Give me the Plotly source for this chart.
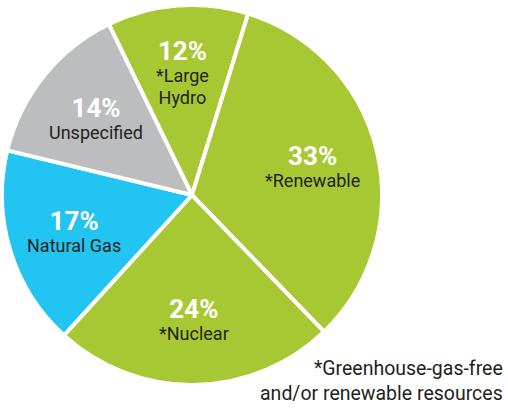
import math
import plotly.graph_objects as go

labels = ["*Large Hydro", "*Renewable", "*Nuclear", "Natural Gas", "Unspecified"]
label_lines = ["*Large<br>Hydro", "*Renewable", "*Nuclear", "Natural Gas", "Unspecified"]
values = [12, 33, 24, 17, 14]
colors = ["#a8c833", "#a8c833", "#a8c833", "#22c4f1", "#bcbdbf"]
footnote = "*Greenhouse-gas-free<br>and/or renewable resources"

# layout / style parameters
W, H = 508, 408
DOM_X = [0.0039, 0.752]
DOM_Y = [0.056, 0.988]
ROTATION = -26
LABEL_R = 0.65  # label distance from centre, as a fraction of the radius

fig = go.Figure(go.Pie(
    labels=labels,
    values=values,
    textinfo="none",
    sort=False,
    direction="clockwise",
    rotation=ROTATION,
    marker=dict(colors=colors, line=dict(color="#ffffff", width=4)),
    domain=dict(x=DOM_X, y=DOM_Y),
    showlegend=False,
    hoverinfo="skip",
))

# slice labels placed along each slice's mid-angle (derived from the values)
cx = W * (DOM_X[0] + DOM_X[1]) / 2
cy = H * (1 - (DOM_Y[0] + DOM_Y[1]) / 2)
R = min(W * (DOM_X[1] - DOM_X[0]), H * (DOM_Y[1] - DOM_Y[0])) / 2
total = sum(values)
cum = 0
for v, l in zip(values, label_lines):
    mid = math.radians(ROTATION + 360 * (cum + v / 2) / total)
    cum += v
    px = cx + LABEL_R * R * math.sin(mid)
    py = cy - LABEL_R * R * math.cos(mid)
    pct = round(100 * v / total)
    fig.add_annotation(
        text=(f"<span style='font-size:26px;color:#ffffff'><b>{pct}%</b></span><br>"
              f"<span style='font-size:18px;color:#231f20'>{l}</span>"),
        x=px / W, y=1 - py / H, xref="paper", yref="paper",
        xanchor="center", yanchor="middle", align="center", showarrow=False,
        font=dict(family="Roboto, sans-serif", size=17, color="#231f20"),
    )

fig.add_annotation(
    text=footnote, x=0.995, y=0.003, xref="paper", yref="paper",
    xanchor="right", yanchor="bottom", align="right", showarrow=False,
    font=dict(family="Roboto, sans-serif", size=19.5, color="#231f20"),
)

fig.update_layout(
    width=W, height=H,
    margin=dict(l=0, r=0, t=0, b=0),
    paper_bgcolor="#ffffff",
    plot_bgcolor="#ffffff",
)

fig.write_html("out.html", config={"displayModeBar": False},
               post_script="document.body.style.margin='0';")
